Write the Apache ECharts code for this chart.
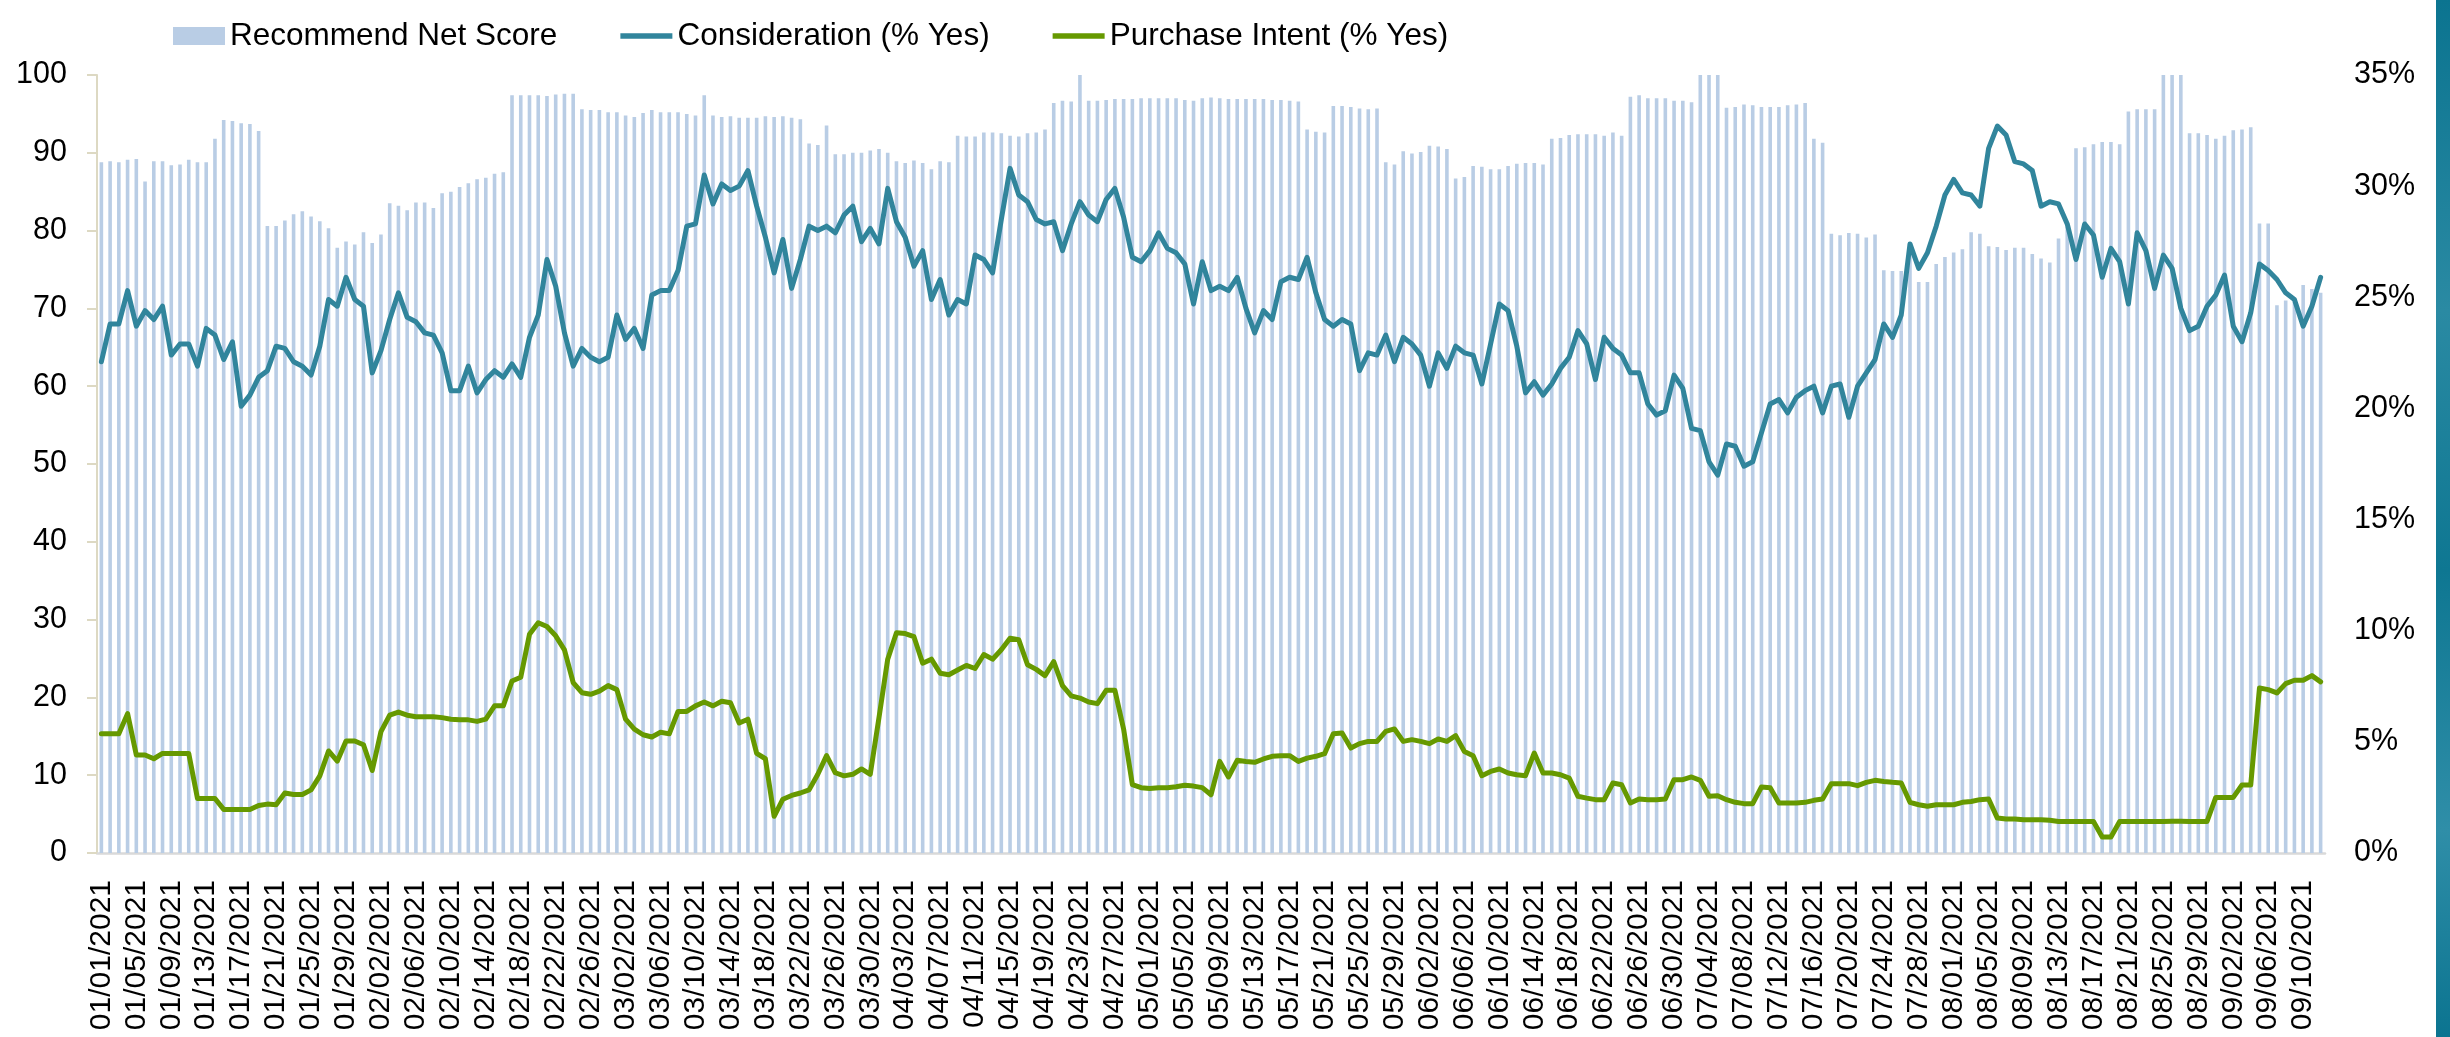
<!DOCTYPE html>
<html>
<head>
<meta charset="utf-8">
<script src="https://cdn.jsdelivr.net/npm/echarts@6/dist/echarts.min.js"></script>
<style>
  html, body { margin: 0; padding: 0; background: #ffffff; }
  #chart { width: 2450px; height: 1037px; }
</style>
</head>
<body>
<div id="chart"></div>
<script>
const categories = [
"01/01/2021","01/02/2021","01/03/2021","01/04/2021","01/05/2021","01/06/2021","01/07/2021","01/08/2021","01/09/2021","01/10/2021","01/11/2021","01/12/2021","01/13/2021","01/14/2021","01/15/2021","01/16/2021","01/17/2021","01/18/2021","01/19/2021","01/20/2021","01/21/2021","01/22/2021","01/23/2021","01/24/2021","01/25/2021","01/26/2021","01/27/2021","01/28/2021","01/29/2021","01/30/2021","01/31/2021",
"02/01/2021","02/02/2021","02/03/2021","02/04/2021","02/05/2021","02/06/2021","02/07/2021","02/08/2021","02/09/2021","02/10/2021","02/11/2021","02/12/2021","02/13/2021","02/14/2021","02/15/2021","02/16/2021","02/17/2021","02/18/2021","02/19/2021","02/20/2021","02/21/2021","02/22/2021","02/23/2021","02/24/2021","02/25/2021","02/26/2021","02/27/2021","02/28/2021",
"03/01/2021","03/02/2021","03/03/2021","03/04/2021","03/05/2021","03/06/2021","03/07/2021","03/08/2021","03/09/2021","03/10/2021","03/11/2021","03/12/2021","03/13/2021","03/14/2021","03/15/2021","03/16/2021","03/17/2021","03/18/2021","03/19/2021","03/20/2021","03/21/2021","03/22/2021","03/23/2021","03/24/2021","03/25/2021","03/26/2021","03/27/2021","03/28/2021","03/29/2021","03/30/2021","03/31/2021",
"04/01/2021","04/02/2021","04/03/2021","04/04/2021","04/05/2021","04/06/2021","04/07/2021","04/08/2021","04/09/2021","04/10/2021","04/11/2021","04/12/2021","04/13/2021","04/14/2021","04/15/2021","04/16/2021","04/17/2021","04/18/2021","04/19/2021","04/20/2021","04/21/2021","04/22/2021","04/23/2021","04/24/2021","04/25/2021","04/26/2021","04/27/2021","04/28/2021","04/29/2021","04/30/2021",
"05/01/2021","05/02/2021","05/03/2021","05/04/2021","05/05/2021","05/06/2021","05/07/2021","05/08/2021","05/09/2021","05/10/2021","05/11/2021","05/12/2021","05/13/2021","05/14/2021","05/15/2021","05/16/2021","05/17/2021","05/18/2021","05/19/2021","05/20/2021","05/21/2021","05/22/2021","05/23/2021","05/24/2021","05/25/2021","05/26/2021","05/27/2021","05/28/2021","05/29/2021","05/30/2021","05/31/2021",
"06/01/2021","06/02/2021","06/03/2021","06/04/2021","06/05/2021","06/06/2021","06/07/2021","06/08/2021","06/09/2021","06/10/2021","06/11/2021","06/12/2021","06/13/2021","06/14/2021","06/15/2021","06/16/2021","06/17/2021","06/18/2021","06/19/2021","06/20/2021","06/21/2021","06/22/2021","06/23/2021","06/24/2021","06/25/2021","06/26/2021","06/27/2021","06/28/2021","06/29/2021","06/30/2021",
"07/01/2021","07/02/2021","07/03/2021","07/04/2021","07/05/2021","07/06/2021","07/07/2021","07/08/2021","07/09/2021","07/10/2021","07/11/2021","07/12/2021","07/13/2021","07/14/2021","07/15/2021","07/16/2021","07/17/2021","07/18/2021","07/19/2021","07/20/2021","07/21/2021","07/22/2021","07/23/2021","07/24/2021","07/25/2021","07/26/2021","07/27/2021","07/28/2021","07/29/2021","07/30/2021","07/31/2021",
"08/01/2021","08/02/2021","08/03/2021","08/04/2021","08/05/2021","08/06/2021","08/07/2021","08/08/2021","08/09/2021","08/10/2021","08/11/2021","08/12/2021","08/13/2021","08/14/2021","08/15/2021","08/16/2021","08/17/2021","08/18/2021","08/19/2021","08/20/2021","08/21/2021","08/22/2021","08/23/2021","08/24/2021","08/25/2021","08/26/2021","08/27/2021","08/28/2021","08/29/2021","08/30/2021","08/31/2021",
"09/01/2021","09/02/2021","09/03/2021","09/04/2021","09/05/2021","09/06/2021","09/07/2021","09/08/2021","09/09/2021","09/10/2021","09/11/2021","09/12/2021"
];

// Recommend Net Score (left axis, 0-100)
const recommendNetScore = [
88.8, 88.9, 88.8, 89.1, 89.2, 86.3, 88.9, 88.9, 88.4, 88.5,
89.1, 88.8, 88.8, 91.8, 94.2, 94.1, 93.8, 93.7, 92.8, 80.6,
80.6, 81.3, 82.1, 82.5, 81.8, 81.2, 80.3, 77.8, 78.6, 78.2,
79.8, 78.4, 79.5, 83.5, 83.2, 82.6, 83.6, 83.6, 82.9, 84.8,
85.0, 85.6, 86.1, 86.6, 86.8, 87.3, 87.5, 97.4, 97.4, 97.4,
97.4, 97.3, 97.5, 97.6, 97.6, 95.6, 95.5, 95.5, 95.2, 95.2,
94.8, 94.6, 95.1, 95.5, 95.2, 95.2, 95.2, 95.0, 94.8, 97.4,
94.8, 94.6, 94.7, 94.5, 94.5, 94.5, 94.7, 94.6, 94.7, 94.5,
94.3, 91.2, 91.0, 93.5, 89.8, 89.8, 90.0, 90.0, 90.3, 90.5,
90.0, 88.9, 88.7, 89.0, 88.7, 87.9, 88.9, 88.8, 92.2, 92.1,
92.1, 92.6, 92.6, 92.5, 92.2, 92.1, 92.5, 92.6, 93.0, 96.4,
96.7, 96.6, 100, 96.7, 96.7, 96.8, 96.9, 96.9, 96.9, 97.0,
97.0, 97.0, 97.0, 97.0, 96.8, 96.7, 97.0, 97.1, 97.0, 96.9,
96.9, 96.9, 96.9, 96.9, 96.8, 96.8, 96.7, 96.6, 93.0, 92.7,
92.6, 96.0, 96.0, 95.9, 95.7, 95.6, 95.7, 88.8, 88.5, 90.2,
89.9, 90.1, 90.9, 90.8, 90.5, 86.7, 86.9, 88.3, 88.2, 87.9,
87.9, 88.3, 88.6, 88.7, 88.7, 88.5, 91.8, 91.9, 92.3, 92.4,
92.4, 92.4, 92.2, 92.6, 92.2, 97.2, 97.4, 97.0, 97.0, 97.0,
96.7, 96.7, 96.5, 100, 100, 100, 95.8, 95.9, 96.2, 96.1,
95.9, 95.9, 95.9, 96.1, 96.2, 96.4, 91.8, 91.3, 79.6, 79.4,
79.7, 79.6, 79.1, 79.5, 74.9, 74.8, 74.8, 78.4, 73.4, 73.4,
75.7, 76.6, 77.2, 77.6, 79.8, 79.6, 78.0, 77.9, 77.5, 77.8,
77.8, 77.0, 76.4, 75.9, 79.0, 80.5, 90.6, 90.7, 91.1, 91.4,
91.4, 91.1, 95.3, 95.6, 95.6, 95.6, 100, 100, 100, 92.5,
92.5, 92.3, 91.8, 92.2, 92.9, 93.0, 93.3, 80.9, 80.9, 70.4,
71.0, 71.1, 73.0, 72.5, 72.0
];

// Consideration (% Yes), right axis
const consideration = [
22.1, 23.8, 23.8, 25.3, 23.7, 24.4, 24.0, 24.6, 22.4, 22.9,
22.9, 21.9, 23.6, 23.3, 22.2, 23.0, 20.1, 20.6, 21.4, 21.7,
22.8, 22.7, 22.1, 21.9, 21.5, 22.8, 24.9, 24.6, 25.9, 24.9,
24.6, 21.6, 22.6, 24.0, 25.2, 24.1, 23.9, 23.4, 23.3, 22.5,
20.8, 20.8, 21.9, 20.7, 21.3, 21.7, 21.4, 22.0, 21.4, 23.2,
24.2, 26.7, 25.5, 23.4, 21.9, 22.7, 22.3, 22.1, 22.3, 24.2,
23.1, 23.6, 22.7, 25.1, 25.3, 25.3, 26.2, 28.2, 28.3, 30.5,
29.2, 30.1, 29.8, 30.0, 30.7, 29.1, 27.7, 26.1, 27.6, 25.4,
26.7, 28.2, 28.0, 28.2, 27.9, 28.7, 29.1, 27.5, 28.1, 27.4,
29.9, 28.4, 27.7, 26.4, 27.1, 24.9, 25.8, 24.2, 24.9, 24.7,
26.9, 26.7, 26.1, 28.5, 30.8, 29.6, 29.3, 28.5, 28.3, 28.4,
27.1, 28.3, 29.3, 28.7, 28.4, 29.4, 29.9, 28.6, 26.8, 26.6,
27.1, 27.9, 27.2, 27.0, 26.5, 24.7, 26.6, 25.3, 25.5, 25.3,
25.9, 24.5, 23.4, 24.4, 24.0, 25.7, 25.9, 25.8, 26.8, 25.2,
24.0, 23.7, 24.0, 23.8, 21.7, 22.5, 22.4, 23.3, 22.1, 23.2,
22.9, 22.4, 21.0, 22.5, 21.8, 22.8, 22.5, 22.4, 21.1, 22.9,
24.7, 24.4, 22.8, 20.7, 21.2, 20.6, 21.1, 21.8, 22.3, 23.5,
22.9, 21.3, 23.2, 22.7, 22.4, 21.6, 21.6, 20.2, 19.7, 19.9,
21.5, 20.9, 19.1, 19.0, 17.6, 17.0, 18.4, 18.3, 17.4, 17.6,
18.9, 20.2, 20.4, 19.8, 20.5, 20.8, 21.0, 19.8, 21.0, 21.1,
19.6, 21.0, 21.6, 22.2, 23.8, 23.2, 24.2, 27.4, 26.3, 27.0,
28.2, 29.6, 30.3, 29.7, 29.6, 29.1, 31.7, 32.7, 32.3, 31.1,
31.0, 30.7, 29.1, 29.3, 29.2, 28.3, 26.7, 28.3, 27.8, 25.9,
27.2, 26.6, 24.7, 27.9, 27.1, 25.4, 26.9, 26.3, 24.5, 23.5,
23.7, 24.6, 25.1, 26.0, 23.7, 23.0, 24.3, 26.5, 26.2, 25.8,
25.2, 24.9, 23.7, 24.6, 25.9
];

// Purchase Intent (% Yes), right axis
const purchaseIntent = [
5.36, 5.36, 5.36, 6.27, 4.41, 4.41, 4.24, 4.48, 4.48, 4.48,
4.48, 2.45, 2.45, 2.45, 1.96, 1.96, 1.96, 1.96, 2.14, 2.20,
2.17, 2.70, 2.63, 2.63, 2.84, 3.47, 4.59, 4.13, 5.04, 5.04,
4.87, 3.71, 5.46, 6.20, 6.34, 6.20, 6.13, 6.13, 6.13, 6.09,
6.02, 5.99, 5.99, 5.92, 6.02, 6.62, 6.62, 7.74, 7.91, 9.84,
10.36, 10.19, 9.77, 9.14, 7.67, 7.21, 7.14, 7.28, 7.53, 7.35,
6.02, 5.57, 5.32, 5.22, 5.43, 5.36, 6.37, 6.37, 6.62, 6.79,
6.62, 6.83, 6.76, 5.85, 6.02, 4.48, 4.24, 1.65, 2.42, 2.59,
2.70, 2.84, 3.54, 4.38, 3.61, 3.47, 3.54, 3.78, 3.54, 6.09,
8.72, 9.91, 9.87, 9.73, 8.54, 8.72, 8.09, 8.02, 8.23, 8.44,
8.30, 8.93, 8.72, 9.14, 9.66, 9.59, 8.47, 8.26, 7.98, 8.61,
7.53, 7.07, 6.97, 6.79, 6.72, 7.32, 7.32, 5.57, 3.08, 2.94,
2.90, 2.94, 2.94, 2.98, 3.05, 3.01, 2.94, 2.62, 4.12, 3.42,
4.17, 4.12, 4.08, 4.23, 4.35, 4.38, 4.38, 4.12, 4.27, 4.35,
4.47, 5.37, 5.40, 4.72, 4.92, 5.02, 5.02, 5.47, 5.58, 5.02,
5.10, 5.02, 4.92, 5.13, 5.02, 5.28, 4.57, 4.38, 3.48, 3.67,
3.78, 3.60, 3.52, 3.48, 4.50, 3.60, 3.60, 3.52, 3.37, 2.55,
2.47, 2.40, 2.40, 3.15, 3.07, 2.25, 2.43, 2.40, 2.40, 2.43,
3.30, 3.30, 3.42, 3.27, 2.55, 2.58, 2.40, 2.28, 2.22, 2.22,
2.97, 2.94, 2.25, 2.25, 2.25, 2.28, 2.37, 2.43, 3.12, 3.12,
3.12, 3.03, 3.18, 3.27, 3.22, 3.18, 3.15, 2.28, 2.17, 2.10,
2.17, 2.17, 2.17, 2.28, 2.32, 2.40, 2.43, 1.57, 1.53, 1.53,
1.50, 1.50, 1.50, 1.47, 1.42, 1.42, 1.42, 1.42, 1.42, 0.72,
0.72, 1.42, 1.42, 1.42, 1.42, 1.42, 1.42, 1.43, 1.43, 1.42,
1.42, 1.42, 2.50, 2.50, 2.50, 3.06, 3.06, 7.42, 7.35, 7.20,
7.62, 7.77, 7.77, 7.98, 7.70
];

const seriesNames = ["Recommend Net Score", "Consideration (% Yes)", "Purchase Intent (% Yes)"];
const leftTicks = { min: 0, max: 100, interval: 10 };
const rightTicks = { min: 0, max: 35, interval: 5 };

const FONT = "'Liberation Sans', Arial, Helvetica, sans-serif";
const LINE_ICON = 'path://M0,0 L52,0 L52,5.5 L0,5.5 Z';
const chart = echarts.init(document.getElementById('chart'), null, { renderer: 'canvas' });

chart.setOption({
  animation: false,
  backgroundColor: '#ffffff',
  textStyle: { fontFamily: FONT, color: '#000000' },
  legend: {
    left: 168,
    top: 15,
    itemWidth: 52,
    itemHeight: 18,
    itemGap: 63,
    symbolKeepAspect: true,
    textStyle: { fontFamily: FONT, fontSize: 31.5, color: '#000000' },
    data: [
      { name: seriesNames[0], icon: 'rect' },
      { name: seriesNames[1], icon: LINE_ICON },
      { name: seriesNames[2], icon: LINE_ICON }
    ]
  },
  grid: { left: 97, right: 125, top: 75, bottom: 184, containLabel: false },
  xAxis: {
    type: 'category',
    data: categories,
    boundaryGap: true,
    axisLine: { show: true, lineStyle: { color: '#d9d9d9', width: 2.5 } },
    axisTick: { show: false },
    axisLabel: {
      rotate: 90,
      interval: 3,
      fontSize: 30,
      fontFamily: FONT,
      color: '#000000',
      margin: 27
    },
    splitLine: { show: false }
  },
  yAxis: [
    {
      type: 'value',
      min: leftTicks.min, max: leftTicks.max, interval: leftTicks.interval,
      position: 'left',
      axisLine: { show: true, lineStyle: { color: '#ddd9c3', width: 2 } },
      axisTick: { show: true, length: 10, lineStyle: { color: '#ddd9c3', width: 2 } },
      axisLabel: { fontSize: 30.5, fontFamily: FONT, color: '#000000', margin: 30 },
      splitLine: { show: false }
    },
    {
      type: 'value',
      min: rightTicks.min, max: rightTicks.max, interval: rightTicks.interval,
      position: 'right',
      axisLine: { show: false },
      axisTick: { show: false },
      axisLabel: { fontSize: 30.5, fontFamily: FONT, color: '#000000', margin: 29, formatter: '{value}%' },
      splitLine: { show: false }
    }
  ],
  series: [
    {
      name: seriesNames[0],
      type: 'bar',
      yAxisIndex: 0,
      data: recommendNetScore,
      barWidth: 3.6,
      itemStyle: { color: '#b9cde5' }
    },
    {
      name: seriesNames[1],
      type: 'line',
      yAxisIndex: 1,
      data: consideration,
      symbol: 'none',
      lineStyle: { color: '#31859c', width: 5, join: 'round', cap: 'round' },
      itemStyle: { color: '#31859c' }
    },
    {
      name: seriesNames[2],
      type: 'line',
      yAxisIndex: 1,
      data: purchaseIntent,
      symbol: 'none',
      lineStyle: { color: '#669900', width: 5, join: 'round', cap: 'round' },
      itemStyle: { color: '#669900' }
    }
  ],
  graphic: [
    {
      type: 'rect',
      left: 2436, top: 0,
      shape: { width: 14, height: 1037 },
      style: {
        fill: new echarts.graphic.LinearGradient(0, 0, 0, 1, [
          { offset: 0, color: '#0b7490' },
          { offset: 0.3, color: '#2a8aa3' },
          { offset: 0.55, color: '#0e7792' },
          { offset: 0.8, color: '#2f8ea8' },
          { offset: 1, color: '#0b7490' }
        ])
      },
      silent: true
    }
  ]
});
</script>
</body>
</html>
